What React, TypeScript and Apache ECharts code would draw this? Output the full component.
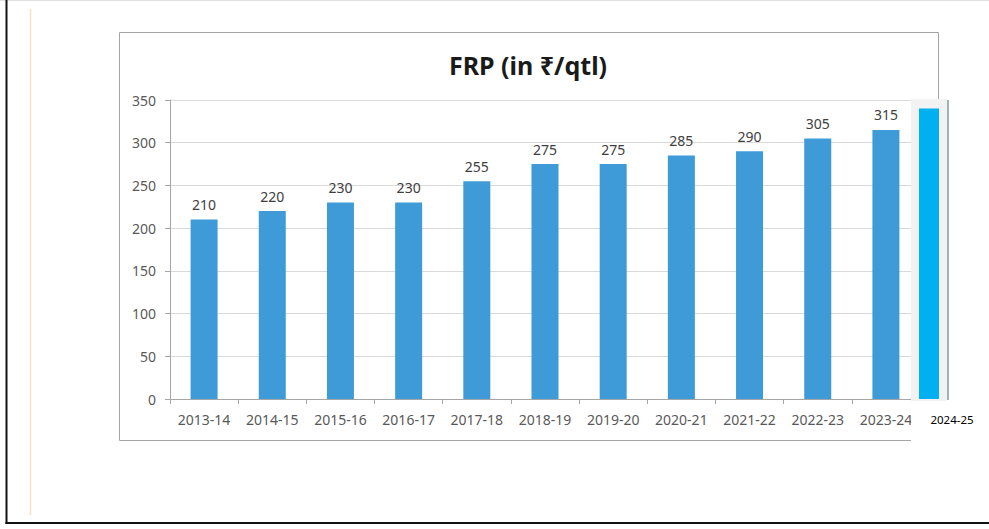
import React, { useEffect, useRef } from "react";
import * as echarts from "echarts";

const titleText = "FRP (in ₹/qtl)";
const categories = ["2013-14", "2014-15", "2015-16", "2016-17", "2017-18", "2018-19", "2019-20", "2020-21", "2021-22", "2022-23", "2023-24"];
const frpValues = [210, 220, 230, 230, 255, 275, 275, 285, 290, 305, 315];
const extraCategory = ["2024-25"];
const extraValues = [340];

const FONT = "'Noto Sans', 'DejaVu Sans', sans-serif";

export default function App() {
  const ref = useRef<HTMLDivElement>(null);
  useEffect(() => {
    document.body.style.margin = "0";
    const chart = echarts.init(ref.current!, null, { renderer: "svg" });
    chart.setOption({
      animation: false,
      backgroundColor: "#ffffff",
      textStyle: { fontFamily: FONT },
      grid: [
        { left: 170, right: 69, top: 100, bottom: 130 },
        { left: 911, right: 42, top: 100, bottom: 130 },
      ],
      xAxis: [
        {
          type: "category",
          gridIndex: 0,
          data: categories,
          axisLine: { lineStyle: { color: "#a6a6a6" } },
          axisTick: { show: true, length: 5, lineStyle: { color: "#a6a6a6" } },
          axisLabel: { color: "#595959", fontSize: 14, margin: 13, fontFamily: FONT, interval: 0 },
        },
        {
          type: "category",
          gridIndex: 1,
          data: extraCategory,
          z: 5,
          axisLine: { show: false },
          axisTick: { show: false },
          axisLabel: { color: "#000000", fontSize: 11.5, margin: 14, fontFamily: FONT, padding: [0, 0, 0, 46] },
        },
      ],
      yAxis: [
        {
          type: "value",
          gridIndex: 0,
          min: 0,
          max: 350,
          interval: 50,
          axisLine: { show: true, lineStyle: { color: "#a6a6a6" } },
          axisTick: { show: true, length: 5, lineStyle: { color: "#a6a6a6" } },
          axisLabel: { color: "#595959", fontSize: 14, margin: 14, fontFamily: FONT },
          splitLine: { lineStyle: { color: "#d9d9d9" } },
        },
        {
          type: "value",
          gridIndex: 1,
          min: 0,
          max: 350,
          show: false,
        },
      ],
      series: [
        {
          type: "bar",
          xAxisIndex: 0,
          yAxisIndex: 0,
          data: frpValues,
          barWidth: 27,
          itemStyle: { color: "#3f9bd8" },
          label: { show: true, position: "top", distance: 8, color: "#404040", fontSize: 14, fontFamily: FONT },
        },
        {
          type: "bar",
          xAxisIndex: 1,
          yAxisIndex: 1,
          data: extraValues,
          barWidth: 20,
          z: 5,
          itemStyle: { color: "#00b0f0" },
        },
      ],
      graphic: [
        { type: "rect", z: 0, silent: true, shape: { x: 119.5, y: 32.5, width: 819, height: 408 }, style: { fill: "none", stroke: "#a6a6a6", lineWidth: 1 } },
        { type: "rect", z: 1, silent: true, shape: { x: 911, y: 99, width: 36, height: 302 }, style: { fill: "#f2f2f2" } },
        { type: "rect", z: 1, silent: true, shape: { x: 911, y: 401, width: 40, height: 45 }, style: { fill: "#ffffff" } },
        { type: "rect", z: 1, silent: true, shape: { x: 947, y: 100, width: 2, height: 300 }, style: { fill: "#9db3b5" } },
        { type: "line", z: 1, silent: true, shape: { x1: 30.5, y1: 9, x2: 30.5, y2: 515 }, style: { stroke: "#f3e3c3", lineWidth: 1.5 } },
        { type: "line", z: 1, silent: true, shape: { x1: 0, y1: 0.5, x2: 989, y2: 0.5 }, style: { stroke: "#e0e0e0", lineWidth: 1 } },
        { type: "line", z: 1, silent: true, shape: { x1: 6.5, y1: 0, x2: 6.5, y2: 524 }, style: { stroke: "#111111", lineWidth: 2 } },
        { type: "line", z: 1, silent: true, shape: { x1: 5.5, y1: 523, x2: 989, y2: 523 }, style: { stroke: "#111111", lineWidth: 2 } },
        {
          type: "text",
          z: 5,
          silent: true,
          x: 528,
          y: 65,
          style: { text: titleText, fontSize: 25, fontWeight: "bold", fill: "#1a1a1a", fontFamily: FONT, textAlign: "center", textVerticalAlign: "middle" },
        },
      ],
    });
    return () => chart.dispose();
  }, []);
  return <div ref={ref} style={{ position: "fixed", left: 0, top: 0, width: 989, height: 529 }} />;
}
